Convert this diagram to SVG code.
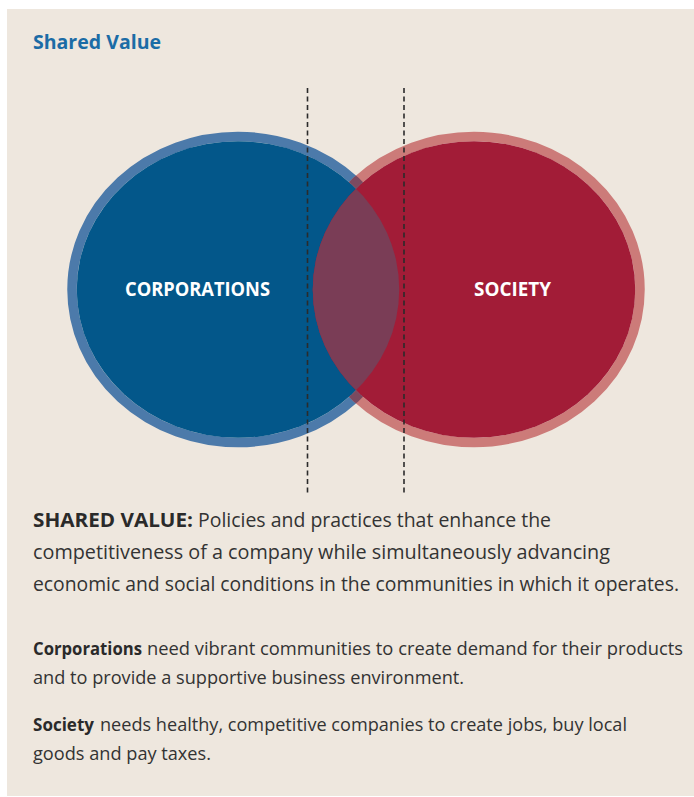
<svg xmlns="http://www.w3.org/2000/svg" width="694" height="797" viewBox="0 0 694 797">
  <style>
    .title { font-family: "Open Sans", "Liberation Sans", sans-serif; font-weight: 700; font-size: 19px; fill: #1b6ca6; }
    .label { font-family: "Open Sans", "Liberation Sans", sans-serif; font-weight: 700; font-size: 19px; fill: #ffffff; }
    .lead { font-family: "Open Sans", "Liberation Sans", sans-serif; font-size: 19.5px; fill: #333333; }
    .body { font-family: "Open Sans", "Liberation Sans", sans-serif; font-size: 17.5px; fill: #333333; }
    .b { font-weight: 700; fill: #2a2a2a; }
    .divider { stroke: #2b2b2b; stroke-width: 1.6; stroke-dasharray: 5 3.5; fill: none; }
  </style>
  <defs>
    <clipPath id="blueInner">
      <ellipse cx="238" cy="289.5" rx="161.25" ry="148.25"/>
    </clipPath>
    <mask id="blueRingMask" maskUnits="userSpaceOnUse" x="0" y="0" width="694" height="797">
      <ellipse cx="238" cy="289.5" rx="166" ry="153" fill="none" stroke="#ffffff" stroke-width="9.5"/>
    </mask>
  </defs>

  <!-- panel background -->
  <rect x="7" y="9" width="687" height="787" fill="#eee7de"/>

  <text class="title" x="33" y="49" textLength="128" lengthAdjust="spacingAndGlyphs">Shared Value</text>

  <!-- rings first, so each fill covers the other circle's ring -->
  <g id="rings">
    <ellipse cx="238" cy="289.5" rx="166" ry="153" fill="none" stroke="#4c7aaa" stroke-width="9.5"/>
    <ellipse cx="474" cy="289.5" rx="166" ry="153" fill="none" stroke="#cc7b79" stroke-width="9.5"/>
  </g>

  <g id="corporations">
    <ellipse cx="238" cy="289.5" rx="161.25" ry="148.25" fill="#03578a"/>
    <text class="label" x="125" y="296" textLength="145" lengthAdjust="spacingAndGlyphs">CORPORATIONS</text>
  </g>

  <g id="society">
    <ellipse cx="474" cy="289.5" rx="161.25" ry="148.25" fill="#a21c37"/>
    <text class="label" x="474" y="296" textLength="77" lengthAdjust="spacingAndGlyphs">SOCIETY</text>
  </g>

  <!-- overlap of the two circles -->
  <g id="shared-value">
    <ellipse cx="474" cy="289.5" rx="161.25" ry="148.25" fill="#7a3d56" clip-path="url(#blueInner)"/>
    <ellipse cx="474" cy="289.5" rx="166" ry="153" fill="none" stroke="#7b4a60" stroke-width="9.5" mask="url(#blueRingMask)"/>
  </g>

  <g id="connectors">
    <line class="divider" x1="307.5" y1="88" x2="307.5" y2="496"/>
    <line class="divider" x1="404" y1="88" x2="404" y2="496"/>
  </g>

  <!-- definition -->
  <g id="definition">
    <text class="lead b" x="33" y="527" textLength="160" lengthAdjust="spacingAndGlyphs">SHARED VALUE:</text>
    <text class="lead" x="198" y="527" textLength="353" lengthAdjust="spacingAndGlyphs">Policies and practices that enhance the</text>
    <text class="lead" x="33" y="559" textLength="577" lengthAdjust="spacingAndGlyphs">competitiveness of a company while simultaneously advancing</text>
    <text class="lead" x="33" y="591" textLength="646" lengthAdjust="spacingAndGlyphs">economic and social conditions in the communities in which it operates.</text>
  </g>

  <g id="notes">
    <text class="body b" x="33" y="655" textLength="109" lengthAdjust="spacingAndGlyphs">Corporations</text>
    <text class="body" x="147" y="655" textLength="536" lengthAdjust="spacingAndGlyphs">need vibrant communities to create demand for their products</text>
    <text class="body" x="33" y="684" textLength="431" lengthAdjust="spacingAndGlyphs">and to provide a supportive business environment.</text>
    <text class="body b" x="33" y="731" textLength="61" lengthAdjust="spacingAndGlyphs">Society</text>
    <text class="body" x="100" y="731" textLength="527" lengthAdjust="spacingAndGlyphs">needs healthy, competitive companies to create jobs, buy local</text>
    <text class="body" x="33" y="760" textLength="178" lengthAdjust="spacingAndGlyphs">goods and pay taxes.</text>
  </g>
</svg>
